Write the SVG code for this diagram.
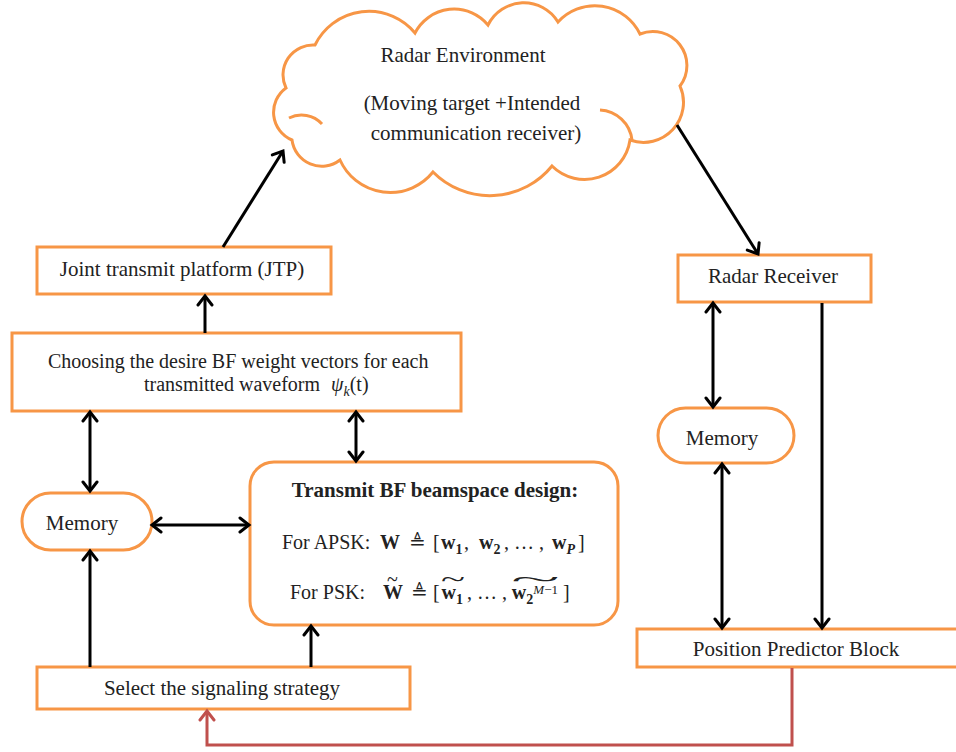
<svg xmlns="http://www.w3.org/2000/svg" width="956" height="752" viewBox="0 0 956 752">
<defs>
<style>
.box{fill:#fff;stroke:#f79646;stroke-width:3}
.t{font-family:"Liberation Serif","Times New Roman","DejaVu Serif",serif;font-size:21px;fill:#222}
.m{font-family:"Liberation Serif","Times New Roman","DejaVu Serif",serif;font-size:20px;fill:#222}
.b{font-weight:bold}
.i{font-style:italic}
.c{stroke:#000;stroke-width:3;fill:none}
.r{stroke:#c0504d;stroke-width:3;fill:none}
</style>
<marker id="ah" markerUnits="userSpaceOnUse" viewBox="0 0 20 20" markerWidth="20" markerHeight="20" refX="12" refY="9" orient="auto-start-reverse">
<path d="M3,2 L12,9 L3,16" fill="none" stroke="#000" stroke-width="3" stroke-linecap="round"/>
</marker>
<marker id="ahr" markerUnits="userSpaceOnUse" viewBox="0 0 20 20" markerWidth="20" markerHeight="20" refX="12" refY="9" orient="auto">
<path d="M3,2 L12,9 L3,16" fill="none" stroke="#c0504d" stroke-width="3" stroke-linecap="round"/>
</marker>
</defs>
<rect width="956" height="752" fill="#fff"/>

<g id="cloud">
<path class="box" d="M292,140 A30,30 0 0 1 286,88 A30,30 0 0 1 315,45 A60,60 0 0 1 415,33 A44,44 0 0 1 488,25 A40,40 0 0 1 558,22 A50,50 0 0 1 640,34 A34,34 0 0 1 680,86 A40,40 0 0 1 630,140 A46,46 0 0 1 552,166 A80,80 0 0 1 433,172 A55,55 0 0 1 340,160 A30,30 0 0 1 292,140 Z"/>
<path d="M289,118 A28,28 0 0 1 322,124" fill="none" stroke="#f79646" stroke-width="3"/>
<path d="M600,110 A34,34 0 0 1 632,140" fill="none" stroke="#f79646" stroke-width="3"/>
<text class="t" x="463" y="62" text-anchor="middle">Radar Environment</text>
<text class="t" x="472" y="110" text-anchor="middle">(Moving target +Intended</text>
<text class="t" x="476" y="140" text-anchor="middle">communication receiver)</text>
</g>

<g id="jtp">
<rect class="box" x="37" y="247" width="294" height="47"/>
<text class="t" x="182" y="276" text-anchor="middle">Joint transmit platform (JTP)</text>
</g>

<g id="choosing">
<rect class="box" x="12" y="333" width="449" height="78"/>
<text class="m" x="48" y="368">Choosing the desire BF weight vectors for each</text>
<text class="m" x="144" y="391">transmitted waveform <tspan class="i" dx="6">ψ</tspan><tspan class="i" font-size="14" dy="5">k</tspan><tspan dy="-5">(t)</tspan></text>
</g>

<g id="memory-left">
<rect class="box" x="22" y="493" width="130" height="57" rx="28.5"/>
<text class="t" x="82" y="530" text-anchor="middle">Memory</text>
</g>

<g id="transmit">
<rect class="box" x="250" y="462" width="368" height="163" rx="24"/>
<text class="t b" x="435" y="497" text-anchor="middle">Transmit BF beamspace design:</text>
<text class="m" x="282" y="549">For APSK:</text>
<text class="m b" x="380" y="549">W</text>
<text class="m" x="409" y="549">≜</text>
<text class="m" x="433" y="549">[</text>
<text class="m b" x="441" y="549">w<tspan font-size="14" dy="5">1</tspan></text>
<text class="m" x="464" y="549">,</text>
<text class="m b" x="479" y="549">w<tspan font-size="14" dy="5">2</tspan></text>
<text class="m" x="504" y="549">, … ,</text>
<text class="m b" x="552" y="549">w<tspan class="i" font-size="14" dy="5">P</tspan></text>
<text class="m" x="578" y="549">]</text>
<text class="m" x="290" y="599">For PSK:</text>
<text class="m b" x="383" y="599">W<tspan font-weight="normal" dx="-16" dy="-13">~</tspan></text>
<text class="m" x="411" y="599">≜</text>
<text class="m" x="433" y="599">[</text>
<text class="m b" x="441" y="599">w<tspan font-size="14" dy="5">1</tspan><tspan font-weight="normal" dx="-22" dy="-18" textLength="24" lengthAdjust="spacingAndGlyphs">~</tspan></text>
<text class="m" x="467" y="599">, … ,</text>
<text class="m b" x="511" y="599">w<tspan font-size="14" dy="5">2</tspan><tspan class="i" font-size="13" font-weight="normal" dy="-10">M</tspan><tspan font-size="13" font-weight="normal">−1</tspan><tspan font-weight="normal" dx="-47" dy="-8" textLength="49" lengthAdjust="spacingAndGlyphs">~</tspan></text>
<text class="m" x="563" y="599">]</text>
</g>

<g id="select">
<rect class="box" x="37" y="667" width="373" height="42"/>
<text class="t" x="222" y="695" text-anchor="middle">Select the signaling strategy</text>
</g>

<g id="radar-receiver">
<rect class="box" x="678" y="255" width="193" height="47"/>
<text class="t" x="773" y="283" text-anchor="middle">Radar Receiver</text>
</g>

<g id="memory-right">
<rect class="box" x="658" y="408" width="136" height="55" rx="27.5"/>
<text class="t" x="722" y="445" text-anchor="middle">Memory</text>
</g>

<g id="position">
<rect class="box" x="637" y="629" width="330" height="38"/>
<text class="t" x="796" y="656" text-anchor="middle">Position Predictor Block</text>
</g>

<g id="connectors">
<path class="c" d="M223,247 L283,151" stroke-width="4" marker-end="url(#ah)"/>
<path class="c" d="M677,125 L758,254" marker-end="url(#ah)"/>
<path class="c" d="M205,333 L205,296" marker-end="url(#ah)"/>
<path class="c" d="M90,412 L90,491" marker-start="url(#ah)" marker-end="url(#ah)"/>
<path class="c" d="M356,412 L356,461" marker-start="url(#ah)" marker-end="url(#ah)"/>
<path class="c" d="M152,525 L249,525" marker-start="url(#ah)" marker-end="url(#ah)"/>
<path class="c" d="M90,667 L90,551" marker-end="url(#ah)"/>
<path class="c" d="M311,667 L311,626" stroke-width="4" marker-end="url(#ah)"/>
<path class="c" d="M713,303 L713,407" marker-start="url(#ah)" marker-end="url(#ah)"/>
<path class="c" d="M722,464 L722,628" marker-start="url(#ah)" marker-end="url(#ah)"/>
<path class="c" d="M822,303 L822,628" marker-end="url(#ah)"/>
<path class="r" d="M792,668 L792,745 L207,745 L207,711" marker-end="url(#ahr)"/>
</g>
</svg>
